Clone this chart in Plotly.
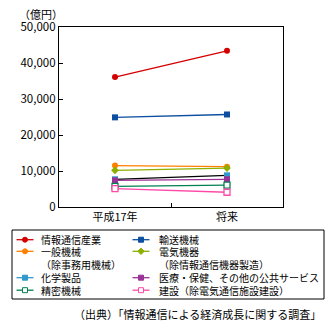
import plotly.graph_objects as go

categories = ["平成17年", "将来"]
series_names = [
    "情報通信産業", "輸送機械",
    "一般機械<br>（除事務用機械）", "電気機器<br>（除情報通信機器製造）",
    "化学製品", "医療・保健、その他の公共サービス",
    "精密機械", "建設（除電気通信施設建設）",
]
values = {
    "情報通信産業": [36100, 43400],
    "輸送機械": [24900, 25700],
    "一般機械<br>（除事務用機械）": [11500, 11200],
    "電気機器<br>（除情報通信機器製造）": [10200, 10800],
    "化学製品": [7700, 8800],
    "医療・保健、その他の公共サービス": [7400, 7700],
    "精密機械": [5750, 6100],
    "建設（除電気通信施設建設）": [5100, 4100],
}
colors = {
    "情報通信産業": "#d40000",
    "輸送機械": "#0c4ea0",
    "一般機械<br>（除事務用機械）": "#ff8000",
    "電気機器<br>（除情報通信機器製造）": "#8cb000",
    "化学製品": "#3399cc",
    "医療・保健、その他の公共サービス": "#9a3398",
    "精密機械": "#008050",
    "建設（除電気通信施設建設）": "#ff48a8",
}
symbols = {
    "情報通信産業": "circle",
    "輸送機械": "square",
    "一般機械<br>（除事務用機械）": "circle",
    "電気機器<br>（除情報通信機器製造）": "diamond",
    "化学製品": "square",
    "医療・保健、その他の公共サービス": "square",
    "精密機械": "square-open",
    "建設（除電気通信施設建設）": "square-open",
}
y_ticks = [0, 10000, 20000, 30000, 40000, 50000]
y_tick_labels = ["0", "10,000", "20,000", "30,000", "40,000", "50,000"]
source_text = "（出典）「情報通信による経済成長に関する調査」"
unit_text = "（億円）"

FONT = "Noto Sans CJK JP"
fig = go.Figure()
for name in series_names:
    line_color = "#000000" if name == "化学製品" else colors[name]
    fig.add_trace(go.Scatter(
        x=categories, y=values[name], name=name.replace("<br>", ""),
        mode="lines+markers",
        line=dict(color=line_color, width=1.3),
        marker=dict(color=colors[name] if "open" not in symbols[name] else "white",
                    symbol=symbols[name].replace("-open", ""), size=6,
                    line=dict(color=colors[name], width=1.3 if "open" in symbols[name] else 0)),
        showlegend=False,
    ))

PL, PW, PB, PH = 59, 224, 207, 180
def px_x(p):
    return (p - PL) / PW
def px_y(p):
    return (PB - p) / PH

shapes = [dict(type="rect", xref="paper", yref="paper",
               x0=px_x(12), x1=px_x(324), y0=px_y(230), y1=px_y(299),
               line=dict(color="black", width=1))]
annotations = [
    dict(text=unit_text, x=px_x(41), y=px_y(14), xref="paper", yref="paper",
         xanchor="center", yanchor="middle", showarrow=False, font=dict(size=11)),
    dict(text=source_text, x=px_x(323), y=px_y(314), xref="paper", yref="paper",
         xanchor="right", yanchor="middle", showarrow=False, font=dict(size=11)),
]

# manual legend (two columns)
row_y = [239.7, 251.3, 277.7, 290.2]
line_gap = 13
col_key = [(16.5, 33.5), (132.5, 149.5)]
col_text = [39, 156.5]
for i, name in enumerate(series_names):
    col, row = i % 2, i // 2
    yc = row_y[row]
    k0, k1 = col_key[col]
    km = (k0 + k1) / 2
    c = colors[name]
    shapes.append(dict(type="line", xref="paper", yref="paper",
                       x0=px_x(k0), x1=px_x(k1), y0=px_y(yc), y1=px_y(yc),
                       line=dict(color=c, width=1.3)))
    sym = symbols[name]
    r = 2.5
    if sym in ("square", "square-open"):
        shapes.append(dict(type="rect", xref="paper", yref="paper",
                           x0=px_x(km - r), x1=px_x(km + r), y0=px_y(yc - r), y1=px_y(yc + r),
                           fillcolor="white" if "open" in sym else c,
                           line=dict(color=c, width=1)))
    elif sym == "diamond":
        shapes.append(dict(type="path", xref="paper", yref="paper",
                           path=f"M {px_x(km - 3.2)} {px_y(yc)} L {px_x(km)} {px_y(yc - 3.2)} "
                                f"L {px_x(km + 3.2)} {px_y(yc)} L {px_x(km)} {px_y(yc + 3.2)} Z",
                           fillcolor=c, line=dict(color=c, width=1)))
    else:
        shapes.append(dict(type="circle", xref="paper", yref="paper",
                           x0=px_x(km - r), x1=px_x(km + r), y0=px_y(yc - r), y1=px_y(yc + r),
                           fillcolor=c, line=dict(color=c, width=1)))
    nlines = len(name.split("<br>"))
    annotations.append(dict(text=name, x=px_x(col_text[col]),
                            y=px_y(yc + (nlines - 1) * line_gap / 2),
                            xref="paper", yref="paper", xanchor="left", yanchor="middle",
                            align="left", showarrow=False, font=dict(size=10)))

fig.update_layout(
    width=335, height=332,
    margin=dict(l=PL, r=335 - PL - PW, t=PB - PH, b=332 - PB, autoexpand=False),
    paper_bgcolor="white", plot_bgcolor="white",
    font=dict(family=FONT, size=11, color="black"),
    showlegend=False,
    xaxis=dict(type="category", range=[-0.5, 1.5], tickson="boundaries",
               ticks="inside", ticklen=4, tickcolor="black",
               showline=True, linecolor="black", linewidth=1.3, mirror=True,
               showgrid=False, tickfont=dict(size=11)),
    yaxis=dict(range=[0, 50000], tickvals=y_ticks, ticktext=y_tick_labels,
               ticks="inside", ticklen=4, tickcolor="black",
               showline=True, linecolor="black", linewidth=1.3, mirror=True,
               showgrid=False, zeroline=False, tickfont=dict(size=11.5)),
    shapes=shapes,
    annotations=annotations,
)
fig.write_html("out.html")
